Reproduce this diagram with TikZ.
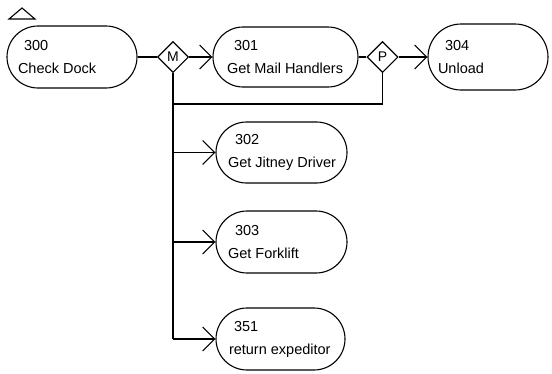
\documentclass[tikz,border=0pt]{standalone}
\usepackage{fontspec}
\setmainfont{Liberation Sans}
\usetikzlibrary{arrows.meta,shapes.geometric,shapes.misc}
\begin{document}
\begin{tikzpicture}[x=1pt,y=-1pt,
  every path/.style={line width=1.1pt},
  proc/.style={draw, rounded rectangle, line width=1.1pt, inner sep=0pt},
  gate/.style={draw, diamond, aspect=1, line width=1.1pt, inner sep=0pt,
    minimum width=31pt, minimum height=31pt, font=\fontsize{14}{16}\selectfont},
  txt/.style={anchor=west, inner sep=0pt, align=left, font=\fontsize{14.5}{23}\selectfont},
  arr/.style={-{Straight Barb[length=12pt,width=24pt,line width=1.1pt]}}]
\useasboundingbox (0,0) rectangle (552,373);
% start marker
\draw[line width=1.1pt] (9,19) -- (35,19) -- (22,8) -- cycle;
% process boxes
\node[proc, minimum width=130pt, minimum height=62pt] (n300) at (72,57) {};
\node[proc, minimum width=145pt, minimum height=60pt] (n301) at (285.5,57) {};
\node[proc, minimum width=120pt, minimum height=66pt] (n304) at (488,57) {};
\node[proc, minimum width=131pt, minimum height=61pt] (n302) at (281.5,152.5) {};
\node[proc, minimum width=131pt, minimum height=62pt] (n303) at (281.5,242) {};
\node[proc, minimum width=129pt, minimum height=62pt] (n351) at (280.5,339) {};
% texts
\node[txt] (t300) at ([xshift=11pt]n300.west) {\hspace*{6pt}300\\Check Dock};
\node[txt] (t301) at ([xshift=14pt]n301.west) {\hspace*{7pt}301\\Get Mail Handlers};
\node[txt] (t304) at ([xshift=10pt]n304.west) {\hspace*{7pt}304\\Unload};
\node[txt] (t302) at ([xshift=12pt]n302.west) {\hspace*{7pt}302\\Get Jitney Driver};
\node[txt] (t303) at ([xshift=12pt]n303.west) {\hspace*{7pt}303\\Get Forklift};
\node[txt] (t351) at ([xshift=13pt]n351.west) {\hspace*{5pt}351\\return expeditor};
% gates
\node[gate] (M) at (173,57) {M};
\node[gate] (P) at (382.5,57) {P};
% connectors
\coordinate (byp) at (250,104);
\draw (n300.east) -- (M.west);
\draw[arr] (M.east) -- (n301.west);
\draw (n301.east) -- (P.west);
\draw[arr] (P.east) -- (n304.west);
\draw (M.south) -- (M.south |- n351.west);
\draw (M.south |- byp) -| (P.south);
\draw[arr] (M.south |- n302.west) -- (n302.west);
\draw[arr] (M.south |- n303.west) -- (n303.west);
\draw[arr] (M.south |- n351.west) -- (n351.west);
\end{tikzpicture}
\end{document}
